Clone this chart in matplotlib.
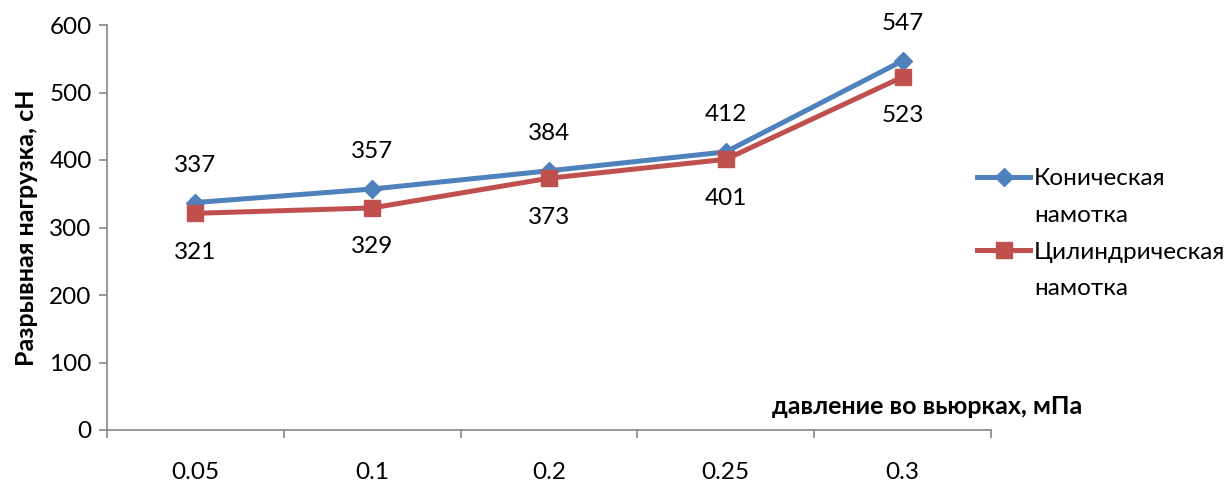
import matplotlib.pyplot as plt
from matplotlib.lines import Line2D
import numpy as np

# Data
pressure = ['0.05', '0.1', '0.2', '0.25', '0.3']
conical = [337, 357, 384, 412, 547]
cylindrical = [321, 329, 373, 401, 523]
series_names = [['Коническая', 'намотка'], ['Цилиндрическая', 'намотка']]

plt.rcParams['font.family'] = ['Lato', 'DejaVu Sans']
fs = 17.5

fig = plt.figure(figsize=(12.31, 4.84), dpi=100)
ax = fig.add_axes([107 / 1231, 1 - 430 / 484, (991 - 107) / 1231, (430 - 25) / 484])

x = np.arange(len(pressure))
blue = '#4F81BD'
red = '#C0504D'
l1, = ax.plot(x, conical, color=blue, lw=3.6, marker='D', ms=9)
l2, = ax.plot(x, cylindrical, color=red, lw=3.6, marker='s', ms=11)

for xi, v in zip(x, conical):
    ax.annotate(str(v), (xi, v), xytext=(0, 27), textcoords='offset points',
                ha='center', va='center', fontsize=fs)
for xi, v in zip(x, cylindrical):
    ax.annotate(str(v), (xi, v), xytext=(0, -28), textcoords='offset points',
                ha='center', va='center', fontsize=fs)

ax.set_xlim(-0.5, len(pressure) - 0.5)
ax.set_ylim(0, 600)
ax.set_yticks(range(0, 601, 100))
ax.tick_params(axis='y', labelsize=fs, length=6, width=1.2, color='#868686', pad=5)

# category ticks between points, labels at centres
ax.set_xticks(np.arange(-0.5, len(pressure), 1.0))
ax.set_xticklabels([])
ax.set_xticks(x, minor=True)
ax.set_xticklabels(pressure, minor=True, fontsize=fs)
ax.tick_params(axis='x', which='major', length=6, width=1.2, color='#868686')
ax.tick_params(axis='x', which='minor', length=0, pad=23)

for s in ['top', 'right']:
    ax.spines[s].set_visible(False)
for s in ['left', 'bottom']:
    ax.spines[s].set_color('#868686')
    ax.spines[s].set_linewidth(1.2)

ax.set_ylabel('Разрывная нагрузка, сН', fontsize=18, fontweight='bold', labelpad=8)
fig.text(927 / 1231, 1 - 407 / 484, 'давление во вьюрках, мПа', fontsize=18,
         fontweight='bold', ha='center', va='center')

# legend: handle next to first line of each label, as in Excel
blank = Line2D([], [], linestyle='none')
handles = [l1, blank, l2, blank]
labels = series_names[0] + series_names[1]
fig.legend(handles, labels, loc='upper left', bbox_to_anchor=(977 / 1231, 1 - 168 / 484),
           frameon=False, fontsize=fs, handlelength=2.2, handletextpad=0.15,
           labelspacing=0.65, borderaxespad=0, borderpad=0)

fig.savefig('out.png', dpi=100)
